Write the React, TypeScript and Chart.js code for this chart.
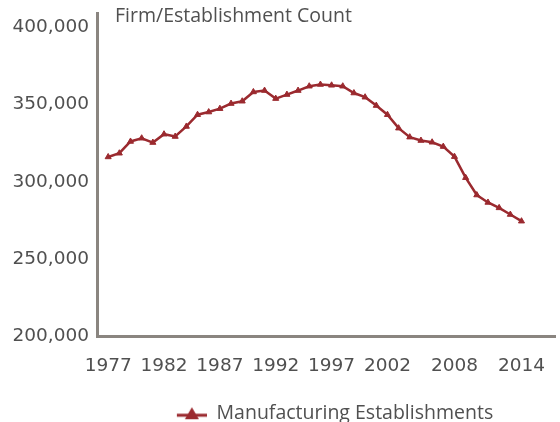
import React, { useEffect, useRef } from "react";
import { Chart, registerables } from "chart.js";

Chart.register(...registerables);

const years = [
  1977, 1978, 1979, 1980, 1981, 1982, 1983, 1984, 1985, 1986,
  1987, 1988, 1989, 1990, 1991, 1992, 1993, 1994, 1995, 1996,
  1997, 1998, 1999, 2000, 2001, 2002, 2003, 2004, 2005, 2006,
  2007, 2008, 2009, 2010, 2011, 2012, 2013, 2014,
];
const establishments = [
  316000, 318400, 326000, 328100, 325300, 330700, 329200, 335700, 343300, 345000,
  347200, 350500, 352000, 358000, 358900, 353700, 356300, 358900, 361700, 362800,
  362300, 361700, 357300, 354600, 349200, 343300, 334600, 328800, 326600, 325500,
  322700, 316200, 302600, 291400, 286600, 283100, 278800, 274500,
];
const xTickYears = [1977, 1982, 1987, 1992, 1997, 2002, 2008, 2014];
const yTickValues = [200000, 250000, 300000, 350000, 400000];
const seriesLabel = "Manufacturing Establishments";
const chartTitle = "Firm/Establishment Count";

const LINE = "#9b2a2f";
const AXIS = "#8a8580";
const TEXT = "#505050";

function makeLegendMarker(): HTMLCanvasElement {
  const c = document.createElement("canvas");
  c.width = 48;
  c.height = 14;
  const ctx = c.getContext("2d")!;
  ctx.strokeStyle = LINE;
  ctx.lineWidth = 3;
  ctx.beginPath();
  ctx.moveTo(18, 9);
  ctx.lineTo(48, 9);
  ctx.stroke();
  ctx.fillStyle = LINE;
  ctx.beginPath();
  ctx.moveTo(33, 1);
  ctx.lineTo(40, 13);
  ctx.lineTo(26, 13);
  ctx.closePath();
  ctx.fill();
  return c;
}

export default function App() {
  const ref = useRef<HTMLCanvasElement>(null);

  useEffect(() => {
    if (!ref.current) return;
    const marker = makeLegendMarker();
    const chart = new Chart(ref.current, {
      type: "line",
      data: {
        datasets: [
          {
            label: seriesLabel,
            data: years.map((y, i) => ({ x: y, y: establishments[i] })),
            borderColor: LINE,
            backgroundColor: LINE,
            borderWidth: 2.5,
            pointStyle: "triangle",
            pointRadius: 3.5,
            pointBorderWidth: 1,
            tension: 0,
          },
        ],
      },
      options: {
        responsive: false,
        animation: false,
        devicePixelRatio: 1,
        layout: { padding: { top: 13, right: 0, left: 0, bottom: 0 } },
        plugins: {
          title: { display: false },
          tooltip: { enabled: false },
          legend: {
            position: "bottom",
            fullSize: false,
            labels: {
              usePointStyle: true,
              pointStyle: marker as any,
              pointStyleWidth: 48,
              color: TEXT,
              font: { family: "'Open Sans'", size: 19.5 },
              padding: 4,
            },
          },
        },
        scales: {
          x: {
            type: "linear",
            min: 1976,
            max: 2017,
            grid: { display: false },
            border: { display: true, color: AXIS, width: 3 },
            afterBuildTicks: (s: any) => {
              s.ticks = xTickYears.map((v) => ({ value: v }));
            },
            afterFit: (s: any) => {
              s.height = 63;
            },
            ticks: {
              autoSkip: false,
              maxRotation: 0,
              padding: 11,
              color: TEXT,
              font: { family: "'DejaVu Sans'", size: 18.5 },
              callback: (v: any) => String(v),
            },
          },
          y: {
            type: "linear",
            min: 200000,
            max: 409000,
            grid: { display: false },
            border: { display: true, color: AXIS, width: 3 },
            afterBuildTicks: (s: any) => {
              s.ticks = yTickValues.map((v) => ({ value: v }));
            },
            afterFit: (s: any) => {
              s.width = 97;
            },
            ticks: {
              padding: 0,
              color: TEXT,
              font: { family: "'DejaVu Sans'", size: 18.5 },
              callback: (v: any) => Number(v).toLocaleString("en-US"),
            },
          },
        },
      },
    });
    return () => chart.destroy();
  }, []);

  return (
    <div style={{ position: "fixed", left: 0, top: 0, width: 560, height: 433, background: "#fff" }}>
      <canvas ref={ref} width={560} height={433} style={{ display: "block" }} />
      <div
        style={{
          position: "absolute",
          left: 115,
          top: 4,
          font: "19.5px 'Open Sans'",
          lineHeight: "22px",
          color: TEXT,
          whiteSpace: "nowrap",
        }}
      >
        {chartTitle}
      </div>
    </div>
  );
}
